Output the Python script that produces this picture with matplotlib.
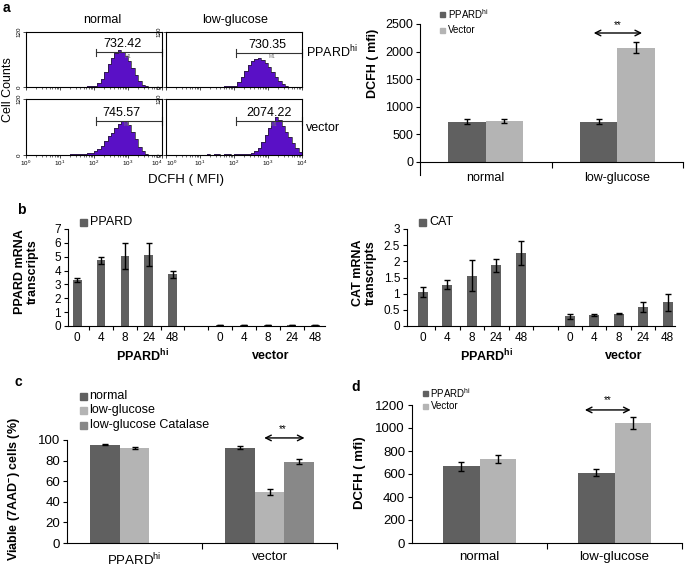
import numpy as np
import matplotlib
matplotlib.use('Agg')
import matplotlib.pyplot as plt
from matplotlib.patches import Rectangle
from matplotlib.ticker import FormatStrFormatter

plt.rcParams['font.family'] = ['Liberation Sans', 'DejaVu Sans']
plt.rcParams['mathtext.fontset'] = 'custom'
plt.rcParams['mathtext.rm'] = 'Liberation Sans'
plt.rcParams['mathtext.it'] = 'Liberation Sans:italic'
plt.rcParams['mathtext.bf'] = 'Liberation Sans:bold'

# ---------------- data ----------------
# a (left): DCFH flow histograms, counts per 0.1-decade bin from 10^0 to 10^4
hist_edges_log = np.arange(0, 4.01, 0.1)
hist_normal_ppard = [0, 0, 0, 0, 0, 0, 1, 0, 1, 0,
                     1, 0, 1, 1, 0, 1, 1, 1, 2, 2,
                     3, 8, 18, 33, 50, 64, 74, 80, 76, 68,
                     56, 41, 26, 13, 5, 2, 1, 0, 0, 0]
hist_low_ppard = [0, 0, 0, 0, 0, 0, 0, 1, 0, 0,
                  1, 0, 1, 1, 1, 1, 1, 2, 2, 2,
                  3, 10, 22, 35, 47, 57, 62, 63, 58, 52,
                  43, 33, 22, 13, 7, 3, 1, 0, 0, 0]
hist_normal_vector = [0, 0, 0, 0, 0, 1, 0, 1, 1, 1,
                      1, 1, 1, 2, 2, 2, 3, 3, 4, 5,
                      8, 12, 20, 30, 40, 48, 57, 66, 72, 73,
                      65, 50, 35, 18, 8, 3, 1, 0, 0, 0]
hist_low_vector = [0, 0, 0, 0, 0, 0, 1, 0, 1, 1,
                   1, 1, 2, 1, 2, 2, 1, 2, 2, 1,
                   2, 2, 2, 3, 3, 4, 8, 15, 27, 42,
                   58, 72, 82, 76, 62, 50, 38, 25, 14, 6]
hist_means = ['732.42', '730.35', '745.57', '2074.22']
hist_cols = ['normal', 'low-glucose']
hist_rows = [r'PPARD$^{\mathrm{hi}}$', 'vector']

# a (right): DCFH mfi
a_groups = ['normal', 'low-glucose']
a_ppard = [728, 725]
a_ppard_err = [45, 45]
a_vector = [745, 2072]
a_vector_err = [40, 105]

# b: mRNA transcripts over time (h)
b_times = ['0', '4', '8', '24', '48']
ppard_hi = [3.35, 4.75, 5.05, 5.15, 3.75]
ppard_hi_err = [0.15, 0.25, 0.95, 0.85, 0.25]
ppard_vec = [0.08, 0.08, 0.08, 0.08, 0.08]
ppard_vec_err = [0.02, 0.02, 0.02, 0.02, 0.02]
cat_hi = [1.05, 1.28, 1.55, 1.88, 2.25]
cat_hi_err = [0.16, 0.14, 0.48, 0.20, 0.37]
cat_vec = [0.30, 0.34, 0.38, 0.58, 0.73]
cat_vec_err = [0.08, 0.02, 0.02, 0.16, 0.26]

# c: viability
c_groups = [r'PPARD$^{\mathrm{hi}}$', 'vector']
c_normal = [95.5, 92.5]
c_normal_err = [0.5, 1.2]
c_low = [92.0, 49.5]
c_low_err = [0.8, 3.0]
c_catalase = [np.nan, 78.8]
c_catalase_err = [np.nan, 2.5]

# d: DCFH mfi
d_groups = ['normal', 'low-glucose']
d_ppard = [668, 613]
d_ppard_err = [38, 32]
d_vector = [727, 1045]
d_vector_err = [35, 55]

dark = '#606060'
light = '#b4b4b4'
mid = '#888888'
purple = '#5a10c6'

W, H = 685, 567
fig = plt.figure(figsize=(W / 100, H / 100), dpi=100)


def add_ax(x0, y0, x1, y1):
    return fig.add_axes([x0 / W, 1 - y1 / H, (x1 - x0) / W, (y1 - y0) / H])


def ftext(x, y, s, **kw):
    kw.setdefault('ha', 'center')
    kw.setdefault('va', 'center')
    fig.text(x / W, 1 - y / H, s, **kw)


def legend_at(x, y0, pitch, labels, colors, size, fontsize):
    for i, (lab, col) in enumerate(zip(labels, colors)):
        y = y0 + i * pitch
        fig.add_artist(Rectangle(((x - size / 2) / W, 1 - (y + size / 2) / H),
                                 size / W, size / H, color=col,
                                 transform=fig.transFigure))
        ftext(x + size / 2 + 3, y, lab, ha='left', fontsize=fontsize)


def bar_style(ax, ysize=9):
    for s in ['top', 'right']:
        ax.spines[s].set_visible(False)
    for s in ['left', 'bottom']:
        ax.spines[s].set_linewidth(0.8)
    ax.tick_params(axis='y', length=3, width=0.8, labelsize=ysize, pad=2)
    ax.tick_params(axis='x', which='major', length=0, labelsize=ysize)
    ax.tick_params(axis='x', which='minor', length=4, width=0.8)


ekw = dict(elinewidth=1, capthick=1, ecolor='black')

# ---------------- a: histograms ----------------
hists = [hist_normal_ppard, hist_low_ppard, hist_normal_vector, hist_low_vector]
boxes = [(26, 32, 162, 87), (166, 32, 302, 87), (26, 99, 162, 155), (166, 99, 302, 155)]
gate_y = [76, 74, 73, 73]
text_x = [10 ** 2.85, 10 ** 2.97, 10 ** 2.82, 10 ** 3.02]
for i, (counts, box) in enumerate(zip(hists, boxes)):
    ax = add_ax(*box)
    ax.stairs(counts, 10 ** hist_edges_log, fill=True, color=purple)
    ax.stairs(counts, 10 ** hist_edges_log, color='#222222', lw=0.5)
    ax.set_xscale('log')
    ax.set_xlim(1, 1e4)
    ax.set_ylim(0, 120)
    ax.set_yticks([0, 120])
    for lab in ax.get_yticklabels():
        lab.set_rotation(90)
        lab.set_va('center')
    ax.tick_params(labelsize=4.5, length=2, width=0.5, pad=1)
    ax.tick_params(which='minor', length=1.2, width=0.4)
    if i < 2:
        ax.set_xticklabels([])
    else:
        ax.set_xticks([1, 10, 100, 1000, 10000])
        labs = ax.get_xticklabels()
        if i == 2:
            labs[-1].set_ha('right')
        else:
            labs[0].set_ha('left')
    for s in ax.spines.values():
        s.set_linewidth(0.8)
    # gate marker
    g0, g1, gy = 115, 1e4, gate_y[i]
    ax.plot([g0, g1], [gy, gy], color='#333333', lw=0.8, clip_on=False)
    ax.plot([g0, g0], [gy - 8, gy + 8], color='#333333', lw=0.8, clip_on=False)
    ax.plot([g1, g1], [gy - 8, gy + 8], color='#333333', lw=0.8, clip_on=False)
    ax.text(text_x[i], gy + 5, hist_means[i], ha='center', va='bottom', fontsize=9)
    ax.text(text_x[i] * 1.4, gy - 3, 'M1', ha='center', va='top', fontsize=3.5, color='#777777')

ftext(102, 20, hist_cols[0], fontsize=9)
ftext(235, 20, hist_cols[1], fontsize=9)
ftext(306, 52, hist_rows[0], ha='left', fontsize=9)
ftext(306, 128, hist_rows[1], ha='left', fontsize=9)
ftext(186, 180, 'DCFH ( MFI)', fontsize=9.5)
ftext(8, 90, 'Cell Counts', fontsize=9, rotation=90)

# ---------------- a: bar chart ----------------
ax = add_ax(420, 24, 683, 175)
x = np.arange(len(a_groups))
w = 0.285
ax.bar(x - w / 2, a_ppard, w, yerr=a_ppard_err, color=dark, capsize=2.5, error_kw=ekw)
ax.bar(x + w / 2, a_vector, w, yerr=a_vector_err, color=light, capsize=2.5, error_kw=ekw)
ax.set_xlim(-0.5, 1.5)
ax.set_ylim(-2500 * 13 / 138, 2500)
ax.spines['bottom'].set_position(('data', 0))
ax.spines['left'].set_bounds(-2500 * 13 / 138, 2500)
ax.set_yticks(np.arange(0, 2501, 500))
ax.set_xticks(x, a_groups)
ax.set_xticks([0.5, 1.5], minor=True)
bar_style(ax)
ax.tick_params(axis='x', which='major', pad=7)
ax.annotate('', xy=(1.21, 2337), xytext=(0.8, 2337),
            arrowprops=dict(arrowstyle='<->', lw=1, color='black'), annotation_clip=False)
ax.text(1.0, 2390, '**', ha='center', va='bottom', fontsize=7)
legend_at(442, 14, 16, [r'PPARD$^{\mathrm{hi}}$', 'Vector'], [dark, light], 5, 7)
ftext(373, 63, 'DCFH ( mfi)', rotation=90, fontsize=9, fontweight='bold')
ftext(6, 8, 'a', fontsize=10, fontweight='bold')

# ---------------- b ----------------
pos_hi = np.arange(len(b_times))
pos_vec = pos_hi + len(b_times) + 1
bticks = np.r_[pos_hi, pos_vec]
bw = 0.36

ax = add_ax(68, 229, 325, 326)
ax.bar(pos_hi, ppard_hi, bw, yerr=ppard_hi_err, color=dark, capsize=2, error_kw=ekw)
ax.bar(pos_vec, ppard_vec, bw, yerr=ppard_vec_err, color=dark, capsize=2, error_kw=ekw)
ax.set_xlim(-0.39, 10.4)
ax.set_ylim(0, 7)
ax.set_yticks(range(8))
ax.set_xticks(bticks, b_times * 2)
ax.set_xticks(np.arange(0.5, 10, 1), minor=True)
bar_style(ax, 8.5)
ax.tick_params(axis='x', which='major', pad=4)
ax.tick_params(axis='x', which='minor', length=3)
legend_at(83, 222, 0, ['PPARD'], [dark], 7, 9)
ftext(26, 272, 'PPARD mRNA\ntranscripts', rotation=90, fontsize=9, fontweight='bold',
      linespacing=1.1)
ftext(143, 356, r'PPARD$^{\mathbf{hi}}$', fontsize=9, fontweight='bold')
ftext(271, 356, 'vector', fontsize=9, fontweight='bold')
ftext(21, 210, 'b', fontsize=10, fontweight='bold')

ax = add_ax(407, 229, 675, 326)
ax.bar(pos_hi, cat_hi, 0.4, yerr=cat_hi_err, color=dark, capsize=2, error_kw=ekw)
ax.bar(pos_vec, cat_vec, 0.4, yerr=cat_vec_err, color=dark, capsize=2, error_kw=ekw)
ax.set_xlim(-0.65, 10.3)
ax.set_ylim(0, 3)
ax.set_yticks(np.arange(0, 3.01, 0.5))
ax.yaxis.set_major_formatter(FormatStrFormatter('%g'))
ax.set_xticks(bticks, b_times * 2)
ax.set_xticks(np.arange(0.5, 10, 1), minor=True)
bar_style(ax, 8.5)
ax.tick_params(axis='x', which='major', pad=4)
ax.tick_params(axis='x', which='minor', length=3)
legend_at(423, 222, 0, ['CAT'], [dark], 7, 9)
ftext(364, 273, 'CAT mRNA\ntranscripts', rotation=90, fontsize=9, fontweight='bold',
      linespacing=1.1)
ftext(487, 356, r'PPARD$^{\mathbf{hi}}$', fontsize=9, fontweight='bold')
ftext(624, 356, 'vector', fontsize=9, fontweight='bold')

# ---------------- c ----------------
ax = add_ax(67, 440, 337, 543)
x = np.arange(len(c_groups))
w = 0.222
ax.bar(x - w, c_normal, w, yerr=c_normal_err, color=dark, capsize=2.5, error_kw=ekw)
ax.bar(x, c_low, w, yerr=c_low_err, color=light, capsize=2.5, error_kw=ekw)
ax.bar(x + w, c_catalase, w, yerr=c_catalase_err, color=mid, capsize=2.5, error_kw=ekw)
ax.set_xlim(-0.5, 1.5)
ax.set_ylim(0, 100)
ax.set_yticks(np.arange(0, 101, 20))
ax.set_xticks(x, c_groups)
ax.set_xticks([0.5, 1.5], minor=True)
bar_style(ax, 9.5)
ax.tick_params(axis='x', which='major', pad=6)
ax.annotate('', xy=(1.28, 102), xytext=(0.94, 102),
            arrowprops=dict(arrowstyle='<->', lw=1, color='black'), annotation_clip=False)
ax.text(1.1, 106, '**', ha='center', va='bottom', fontsize=7)
legend_at(83, 396, 14.5, ['normal', 'low-glucose', 'low-glucose Catalase'],
          [dark, light, mid], 7, 9)
ftext(15, 489, r'Viable (7AAD$^{\mathbf{-}}$) cells (%)', rotation=90, fontsize=9,
      fontweight='bold')
ftext(18, 382, 'c', fontsize=10, fontweight='bold')

# ---------------- d ----------------
ax = add_ax(412, 405, 682, 543)
x = np.arange(len(d_groups))
w = 0.274
ax.bar(x - w / 2, d_ppard, w, yerr=d_ppard_err, color=dark, capsize=2.5, error_kw=ekw)
ax.bar(x + w / 2, d_vector, w, yerr=d_vector_err, color=light, capsize=2.5, error_kw=ekw)
ax.set_xlim(-0.5, 1.5)
ax.set_ylim(0, 1200)
ax.set_yticks(np.arange(0, 1201, 200))
ax.set_xticks(x, d_groups)
ax.set_xticks([0.5, 1.5], minor=True)
bar_style(ax, 9.5)
ax.tick_params(axis='x', which='major', pad=6)
ax.annotate('', xy=(1.14, 1157), xytext=(0.76, 1157),
            arrowprops=dict(arrowstyle='<->', lw=1, color='black'), annotation_clip=False)
ax.text(0.95, 1195, '**', ha='center', va='bottom', fontsize=7)
legend_at(425, 393, 13, [r'PPARD$^{\mathrm{hi}}$', 'Vector'], [dark, light], 5, 7)
ftext(360, 473, 'DCFH ( mfi)', rotation=90, fontsize=9.5, fontweight='bold')
ftext(356, 387, 'd', fontsize=10, fontweight='bold')

fig.savefig('out.png', dpi=100)
